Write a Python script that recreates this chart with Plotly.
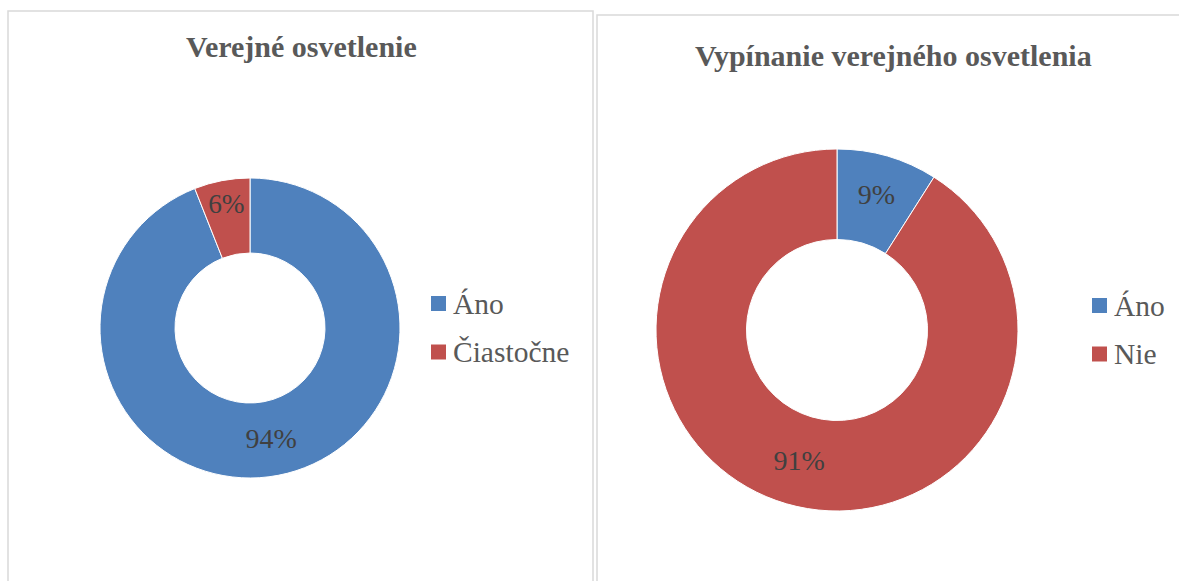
import plotly.graph_objects as go

W, H = 1179, 581

titles = ["Verejné osvetlenie", "Vypínanie verejného osvetlenia"]
labels1 = ["Áno", "Čiastočne"]
values1 = [94, 6]
labels2 = ["Áno", "Nie"]
values2 = [9, 91]
colors = ["#4F81BD", "#C0504D"]

FONT = "Liberation Serif, Times New Roman, serif"


def px(x):
    return x / W


def py(y):
    return 1 - y / H


fig = go.Figure()

pies = [
    (labels1, values1, (250, 328), 150),
    (labels2, values2, (837, 330), 181),
]
for labels, values, (cx, cy), r in pies:
    fig.add_trace(go.Pie(
        labels=labels,
        values=values,
        hole=0.5,
        sort=False,
        direction="clockwise",
        rotation=0,
        marker=dict(colors=colors, line=dict(color="white", width=1)),
        textinfo="percent",
        textposition="inside",
        insidetextorientation="horizontal",
        textfont=dict(family=FONT, size=28, color="#404040"),
        showlegend=False,
        domain=dict(x=[px(cx - r), px(cx + r)], y=[py(cy + r), py(cy - r)]),
    ))

shapes = []
annotations = []

# panel borders
for x0, y0, x1 in [(8, 11, 593), (597, 15, 1185)]:
    shapes.append(dict(type="rect", xref="paper", yref="paper",
                       x0=px(x0), x1=px(x1), y0=py(y0), y1=py(600),
                       line=dict(color="#D9D9D9", width=1.5), fillcolor="rgba(0,0,0,0)"))

# titles
for t, (tx, ty) in zip(titles, [(301, 47), (893, 55)]):
    annotations.append(dict(text=f"<b>{t}</b>", x=px(tx), y=py(ty), xref="paper", yref="paper",
                            xanchor="center", yanchor="middle", showarrow=False,
                            font=dict(family=FONT, size=30, color="#595959")))

# legends
legend_pos = [(labels1, 431, [303.5, 352]), (labels2, 1092, [305.5, 354])]
for labels, lx, ys in legend_pos:
    for i, (lab, ly) in enumerate(zip(labels, ys)):
        shapes.append(dict(type="rect", xref="paper", yref="paper",
                           x0=px(lx), x1=px(lx + 15), y0=py(ly + 7.5), y1=py(ly - 7.5),
                           line=dict(width=0), fillcolor=colors[i]))
        annotations.append(dict(text=lab, x=px(lx + 20), y=py(ly), xref="paper", yref="paper",
                                xanchor="left", yanchor="middle", showarrow=False,
                                font=dict(family=FONT, size=29.5, color="#595959")))

fig.update_layout(
    width=W, height=H,
    margin=dict(l=0, r=0, t=0, b=0),
    paper_bgcolor="white",
    plot_bgcolor="white",
    shapes=shapes,
    annotations=annotations,
)

fig.write_html("out.html", config={"displayModeBar": False},
               post_script="document.body.style.margin='0';document.body.style.overflow='hidden';")
